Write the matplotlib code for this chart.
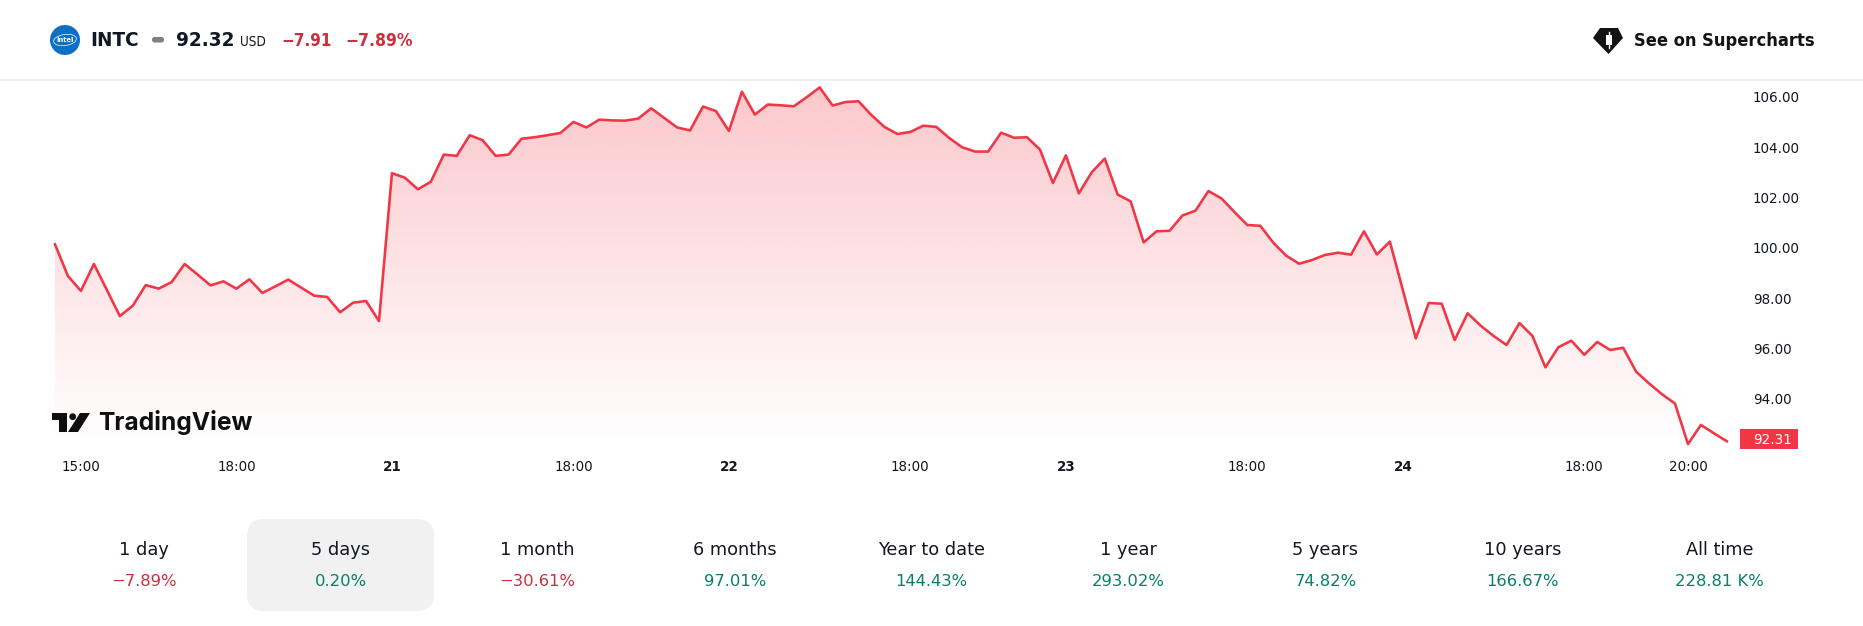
import numpy as np
import matplotlib
matplotlib.use("Agg")
import matplotlib.pyplot as plt
from matplotlib.patches import Circle, Ellipse, FancyBboxPatch, Polygon, Rectangle

# Intraday closes, 15-minute bars
prices = [
    100.14, 98.88, 98.29, 99.36, 98.33, 97.29, 97.70, 98.52, 98.38, 98.64,
    99.36, 98.94, 98.51, 98.67, 98.38, 98.75, 98.21, 98.47, 98.74, 98.42,
    98.10, 98.05, 97.44, 97.82, 97.89, 97.09,
    102.97, 102.79, 102.33, 102.63, 103.71, 103.66, 104.48, 104.28, 103.66, 103.71,
    104.34, 104.40, 104.48, 104.57, 105.01, 104.79, 105.10, 105.07, 105.06, 105.14,
    105.55, 105.17, 104.79, 104.67, 105.62, 105.44, 104.65, 106.21, 105.30, 105.70,
    105.67, 105.63, 105.99, 106.38, 105.66, 105.80, 105.83, 105.28, 104.81, 104.53,
    104.61, 104.86, 104.81, 104.37, 104.00, 103.83, 103.83, 104.58, 104.38, 104.40,
    103.91, 102.58, 103.68, 102.17, 103.01, 103.55, 102.12, 101.85, 100.22,
    100.66, 100.68, 101.29, 101.48, 102.26, 101.97, 101.43, 100.91, 100.88, 100.21,
    99.69, 99.37, 99.52, 99.72, 99.81, 99.73, 100.66, 99.74, 100.25, 98.33,
    96.40, 97.81, 97.78, 96.34, 97.40, 96.91, 96.50, 96.14, 97.01, 96.50,
    95.25, 96.05, 96.31, 95.75, 96.26, 95.94, 96.03, 95.08, 94.61, 94.18,
    93.81, 92.20, 92.96, 92.63, 92.31,
]
time_positions = [2, 14, 26, 40, 52, 66, 78, 92, 104, 118, 126]
time_labels = ["15:00", "18:00", "21", "18:00", "22", "18:00", "23", "18:00", "24", "18:00", "20:00"]
day_labels = {"21", "22", "23", "24"}
price_ticks = [94, 96, 98, 100, 102, 104, 106]
last_price = 92.31

period_names = ["1 day", "5 days", "1 month", "6 months", "Year to date",
                "1 year", "5 years", "10 years", "All time"]
period_changes = ["−7.89%", "0.20%", "−30.61%", "97.01%", "144.43%",
                  "293.02%", "74.82%", "166.67%", "228.81 K%"]

RED = "#f23645"
TEXT_RED = "#cc2f3c"
GREEN = "#067f6b"
INK = "#131722"
FONT = "DejaVu Sans"
W, H = 1863, 626


def px(size):
    return size * 0.72


fig = plt.figure(figsize=(W / 100, H / 100), dpi=100, facecolor="white")

# Price pane, placed in pixel terms
left, right, top, bottom = 55, 1735, 81, 447
ax = fig.add_axes([left / W, 1 - bottom / H, (right - left) / W, (bottom - top) / H])
unit_px = 25.15
ax.set_xlim(0, (right - left) / 12.96)
ax.set_ylim(106 - (bottom - 97) / unit_px, 106 + (97 - top) / unit_px)
xs = np.arange(len(prices))

# Area under the line: red fading to transparent
area = ax.fill_between(xs, prices, ax.get_ylim()[0], facecolor="none", edgecolor="none")
grad = np.ones((256, 2, 4))
grad[..., 0], grad[..., 1], grad[..., 2] = matplotlib.colors.to_rgb(RED)
grad[..., 3] = np.linspace(0.28, 0, 256)[:, None]
im = ax.imshow(grad, extent=[*ax.get_xlim(), *ax.get_ylim()], aspect="auto", origin="upper", zorder=1)
im.set_clip_path(area.get_paths()[0], transform=ax.transData)
ax.set_xlim(0, (right - left) / 12.96)

ax.plot(xs, prices, color=RED, lw=px(2.6), solid_joinstyle="round", zorder=3, clip_on=False)

for s in ax.spines.values():
    s.set_visible(False)
ax.patch.set_alpha(0)
ax.yaxis.tick_right()
ax.set_yticks(price_ticks)
ax.set_yticklabels([f"{v:.2f}" for v in price_ticks], fontsize=px(13.5), color=INK, family=FONT)
ax.tick_params(axis="y", length=0, pad=px(18))
ax.set_xticks(time_positions)
ax.set_xticklabels(time_labels, fontsize=px(13.5), color=INK, family=FONT)
for lab, txt in zip(ax.get_xticklabels(), time_labels):
    if txt in day_labels:
        lab.set_fontweight("bold")
ax.tick_params(axis="x", length=0, pad=px(13))

# Overlay in pixel coordinates for header, badge, logo and period tabs
ov = fig.add_axes([0, 0, 1, 1], zorder=5)
ov.set_xlim(0, W)
ov.set_ylim(H, 0)
ov.axis("off")


def label(x, y, s, size, color=INK, weight="normal", ha="left", **kw):
    kw.setdefault("stretch", "condensed")
    kw.setdefault("family", FONT)
    ov.text(x, y, s, fontsize=px(size), color=color, fontweight=weight, ha=ha, va="center", **kw)


# Header
ov.plot([0, W], [80, 80], color="#ebebeb", lw=px(1.5))
ov.add_patch(Circle((65, 40), 15, fc="#0d70c4", ec="none"))
ov.add_patch(Ellipse((65, 40), 23, 11, angle=-8, fc="none", ec="white", lw=0.5))
label(65, 40, "intel", 7.5, color="white", weight="bold", ha="center")
label(90, 40.5, "INTC", 20.5, weight="bold")
ov.add_patch(FancyBboxPatch((153, 38), 10, 3.5, boxstyle="round,pad=0,rounding_size=1.7",
                            fc="#808080", ec="#808080", lw=1.5))
label(176, 40.5, "92.32", 20.5, weight="bold")
label(240, 42, "USD", 13.5)
label(281, 40.5, "−7.91", 17, color=TEXT_RED, weight="bold")
label(345, 40.5, "−7.89%", 17.4, color=TEXT_RED, weight="bold")

# Supercharts link
ov.add_patch(Polygon([(1600, 28), (1618, 28), (1623, 38), (1608.5, 54), (1593, 38)], closed=True,
                     fc="#131313", ec="none"))
ov.add_patch(Rectangle((1605.5, 35), 6, 10, fc="white", ec="none"))
ov.plot([1608.5, 1608.5], [32, 47.5], color="white", lw=1)
label(1634, 41, "See on Supercharts", 18.2, color="#131313", weight="bold")

# Last-price badge
ov.add_patch(Rectangle((1740, 429), 58, 20, fc=RED, ec="none"))
label(1753, 439.5, f"{last_price:.2f}", 13.5, color="white", stretch="normal")

# Logo mark and wordmark
ink = "#0f0f0f"
ov.add_patch(Polygon([(52, 413), (67, 413), (67, 432), (59, 432), (59, 420), (52, 420)], closed=True, fc=ink, ec="none"))
ov.add_patch(Circle((72.7, 416.7), 3.4, fc=ink, ec="none"))
ov.add_patch(Polygon([(80, 413), (90, 413), (78, 432), (68, 432)], closed=True, fc=ink, ec="none"))
ov.text(98, 422.5, "TradingView", fontsize=px(24.6), color=ink, fontweight="bold",
        family="Inter", ha="left", va="center")

# Period tabs
ov.add_patch(FancyBboxPatch((247, 519), 187, 92, boxstyle="round,pad=0,rounding_size=17",
                            fc="#f1f1f1", ec="none"))
for i, (name, change) in enumerate(zip(period_names, period_changes)):
    cx = 143.8 + 196.95 * i
    label(cx, 550, name, 17.8, ha="center", stretch="normal")
    label(cx, 581, change, 16.4, color=TEXT_RED if change.startswith("−") else GREEN,
          ha="center", stretch="normal")

fig.savefig("out.png", dpi=100, facecolor="white")
